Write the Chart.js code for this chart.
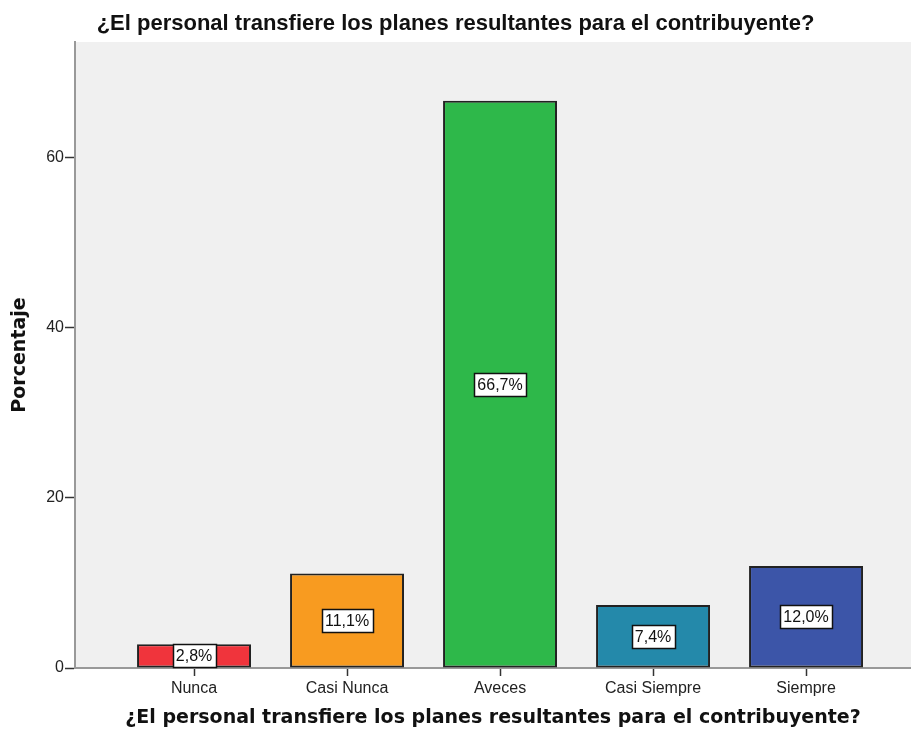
<!DOCTYPE html>
<html>
<head>
<meta charset="utf-8">
<script src="https://cdn.jsdelivr.net/npm/chart.js@4.4.1/dist/chart.umd.min.js"></script>
<style>
  html, body { margin: 0; padding: 0; background: #fff; }
  #wrap { width: 911px; height: 731px; }
</style>
</head>
<body>
<div id="wrap"><canvas id="chart"></canvas></div>
<script>
// data
const categories = ['Nunca', 'Casi Nunca', 'Aveces', 'Casi Siempre', 'Siempre'];
const percents = [2.8, 11.1, 66.7, 7.4, 12.0];
const barColors = ['#F0343C', '#F89B20', '#2EB84A', '#2489AA', '#3C55A8'];
const yTicks = [0, 20, 40, 60];
const titleText = '¿El personal transfiere los planes resultantes para el contribuyente?';

// gray plot background
const plotBg = {
  id: 'plotBg',
  beforeDraw(chart) {
    const { ctx, chartArea: a } = chart;
    ctx.save();
    ctx.fillStyle = '#F0F0F0';
    ctx.fillRect(a.left, a.top, a.right - a.left, a.bottom - a.top);
    ctx.restore();
  },
};

// white boxed value labels at the middle of each bar
const boxLabels = {
  id: 'boxLabels',
  afterDatasetsDraw(chart) {
    const { ctx } = chart;
    const meta = chart.getDatasetMeta(0);
    ctx.save();
    ctx.font = '16px "Liberation Sans", Arial, sans-serif';
    ctx.textAlign = 'center';
    ctx.textBaseline = 'middle';
    meta.data.forEach((bar, i) => {
      const txt = percents[i].toFixed(1).replace('.', ',') + '%';
      const { x, y } = bar.getCenterPoint();
      const w = Math.round(ctx.measureText(txt).width + 7);
      const h = 23;
      const bx = Math.round(x - w / 2) + 0.5;
      const by = Math.round(y - h / 2) + 0.5;
      ctx.fillStyle = '#fff';
      ctx.fillRect(bx, by, w, h);
      ctx.strokeStyle = '#111';
      ctx.lineWidth = 1.5;
      ctx.strokeRect(bx, by, w, h);
      ctx.fillStyle = '#111';
      ctx.fillText(txt, x, y + 1);
    });
    ctx.restore();
  },
};

new Chart(document.getElementById('chart'), {
  type: 'bar',
  data: {
    datasets: [{
      data: percents.map((v, i) => ({ x: i, y: v })),
      backgroundColor: barColors,
      borderColor: '#222',
      borderWidth: 2,
      borderSkipped: false,
      barPercentage: 0.745,
      categoryPercentage: 1,
    }],
  },
  options: {
    responsive: true,
    maintainAspectRatio: false,
    animation: false,
    layout: { padding: 0 },
    plugins: {
      legend: { display: false },
      tooltip: { enabled: false },
      title: {
        display: true,
        text: titleText,
        color: '#111',
        font: { family: '"Liberation Sans", Arial, sans-serif', size: 22, weight: 'bold' },
        padding: { top: 11, bottom: 4.6 },
      },
    },
    scales: {
      x: {
        type: 'linear',
        offset: false,
        min: -0.778,
        max: 4.686,
        afterBuildTicks: (axis) => { axis.ticks = categories.map((c, i) => ({ value: i })); },
        afterFit: (axis) => { axis.height = 63; },
        ticks: {
          callback: (v) => categories[v],
          color: '#222',
          padding: 3,
          maxRotation: 0,
          autoSkip: false,
          font: { family: '"Liberation Sans", Arial, sans-serif', size: 16 },
        },
        grid: { offset: false, drawOnChartArea: false, tickLength: 8, color: '#333', tickWidth: 1.5 },
        border: { color: '#999', width: 2 },
        title: {
          display: true,
          text: titleText,
          color: '#111',
          padding: { top: 0, bottom: 2 },
          font: { family: '"DejaVu Sans", sans-serif', size: 19, weight: 'bold' },
        },
      },
      y: {
        min: 0,
        max: 73.6,
        afterBuildTicks: (axis) => { axis.ticks = yTicks.map((v) => ({ value: v })); },
        afterFit: (axis) => { axis.width = 75; },
        ticks: {
          color: '#222',
          padding: 1,
          font: { family: '"Liberation Sans", Arial, sans-serif', size: 16 },
        },
        grid: { drawOnChartArea: false, tickLength: 10, color: '#333', tickWidth: 1.5 },
        border: { color: '#999', width: 2 },
        title: {
          display: true,
          text: 'Porcentaje',
          color: '#111',
          padding: { top: 9, bottom: 0 },
          font: { family: '"DejaVu Sans", sans-serif', size: 19, weight: 'bold' },
        },
      },
    },
  },
  plugins: [plotBg, boxLabels],
});
</script>
</body>
</html>
